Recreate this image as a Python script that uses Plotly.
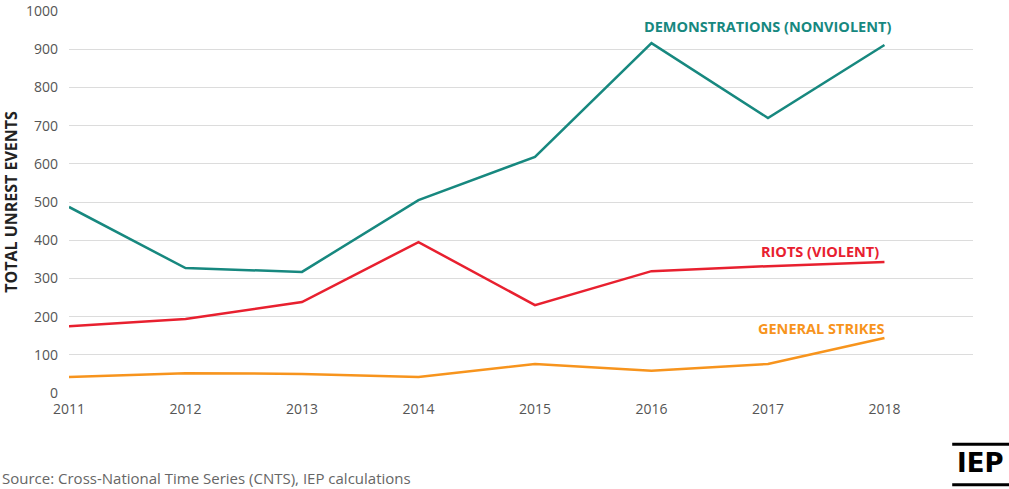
import plotly.graph_objects as go

years = [2011, 2012, 2013, 2014, 2015, 2016, 2017, 2018]
demonstrations = [487, 327, 317, 505, 618, 916, 720, 911]
riots = [175, 194, 238, 395, 230, 319, 332, 343]
strikes = [42, 52, 50, 42, 76, 58, 76, 144]

y_ticks = [0, 100, 200, 300, 400, 500, 600, 700, 800, 900, 1000]

teal = "#17887f"
red = "#e8202f"
orange = "#f7941d"

fig = go.Figure()
fig.add_trace(go.Scatter(x=years, y=strikes, mode="lines", line=dict(color=orange, width=2.5)))
fig.add_trace(go.Scatter(x=years, y=riots, mode="lines", line=dict(color=red, width=2.5)))
fig.add_trace(go.Scatter(x=years, y=demonstrations, mode="lines", line=dict(color=teal, width=2.5)))

fig.add_annotation(x=2018.07, y=960, text="<b>DEMONSTRATIONS (NONVIOLENT)</b>", showarrow=False,
                   xanchor="right", font=dict(color=teal, size=14.5))
fig.add_annotation(x=2017.97, y=370, text="<b>RIOTS (VIOLENT)</b>", showarrow=False,
                   xanchor="right", font=dict(color=red, size=14.5))
fig.add_annotation(x=2018.02, y=170, text="<b>GENERAL STRIKES</b>", showarrow=False,
                   xanchor="right", font=dict(color=orange, size=14.5))

# source note and IEP logo below the plot
fig.add_annotation(xref="paper", yref="paper", x=-0.076, y=-0.19, text="Source: Cross-National Time Series (CNTS), IEP calculations",
                   showarrow=False, xanchor="left", yanchor="top", font=dict(color="#666666", size=15))
fig.add_annotation(xref="paper", yref="paper", x=1.037, y=-0.14, text="<b>IEP</b>",
                   showarrow=False, xanchor="right", yanchor="top", font=dict(color="black", size=26, family="DejaVu Sans"))
fig.add_shape(type="line", xref="paper", yref="paper", x0=0.977, x1=1.05, y0=-0.134, y1=-0.134,
              line=dict(color="black", width=3))
fig.add_shape(type="line", xref="paper", yref="paper", x0=0.977, x1=1.05, y0=-0.24, y1=-0.24,
              line=dict(color="black", width=3))

fig.update_layout(
    width=1009, height=489,
    margin=dict(l=69, r=36, t=11, b=96, autoexpand=False),
    paper_bgcolor="white", plot_bgcolor="white",
    showlegend=False,
    font=dict(family="Open Sans", size=14, color="#555555"),
    xaxis=dict(range=[2011, 2018.76], tickvals=years, ticktext=[str(y) for y in years],
               showgrid=False, zeroline=False, showline=False, ticks="", automargin=False,
               ticklabelstandoff=6),
    yaxis=dict(range=[0, 1000], tickvals=y_ticks, showgrid=True, gridcolor="#dcdcdc", gridwidth=1,
               zeroline=False, showline=False, ticks="", ticklabelstandoff=10, automargin=False,
               title=dict(text="<b>TOTAL UNREST EVENTS</b>", font=dict(size=16, color="#222222"), standoff=4)),
)

fig.write_html("out.html", config={"displayModeBar": False},
               post_script="document.body.style.margin='0';")
